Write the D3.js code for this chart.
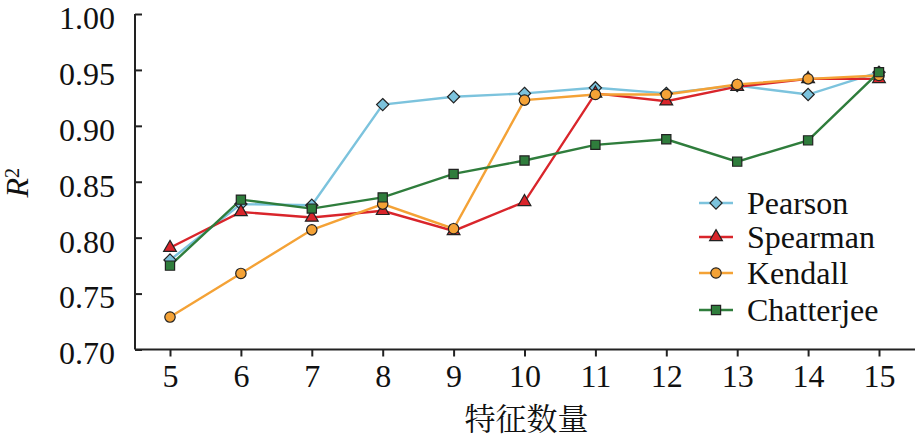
<!DOCTYPE html>
<html>
<head>
<meta charset="utf-8">
<script src="https://cdn.jsdelivr.net/npm/d3@7"></script>
<style>
  body { margin: 0; background: #fff; }
  svg { display: block; }
</style>
</head>
<body>
<svg id="chart" width="916" height="439"></svg>
<script>
const featureCounts = [5, 6, 7, 8, 9, 10, 11, 12, 13, 14, 15];
const pearson    = [0.780, 0.830, 0.829, 0.919, 0.926, 0.929, 0.934, 0.929, 0.936, 0.928, 0.948];
const spearman   = [0.791, 0.823, 0.818, 0.824, 0.806, 0.832, 0.929, 0.922, 0.935, 0.942, 0.942];
const kendall    = [0.729, 0.768, 0.807, 0.830, 0.808, 0.923, 0.928, 0.928, 0.937, 0.942, 0.945];
const chatterjee = [0.775, 0.834, 0.826, 0.836, 0.857, 0.869, 0.883, 0.888, 0.868, 0.887, 0.948];
const yTicks = [0.70, 0.75, 0.80, 0.85, 0.90, 0.95, 1.00];

const series = [
  { name: 'Pearson', values: pearson, color: '#7cc3dd', symbol: d3.symbolDiamond2, size: 95 },
  { name: 'Spearman', values: spearman, color: '#d9252b', symbol: d3.symbolTriangle, size: 70 },
  { name: 'Kendall', values: kendall, color: '#f4a236', symbol: d3.symbolCircle, size: 85 },
  { name: 'Chatterjee', values: chatterjee, color: '#2f7d3c', symbol: d3.symbolSquare, size: 85 }
];

const serif = 'Liberation Serif';
const margin = { left: 135, top: 14, bottom: 89 };
const width = 916, height = 439;
const svg = d3.select('#chart');

svg.append('rect').attr('width', width).attr('height', height).attr('fill', '#fff');

const x = d3.scaleLinear().domain([5, 15]).range([170, 879]);
const y = d3.scaleLinear().domain([0.70, 1.00]).range([height - margin.bottom - 0.5, margin.top]);

// x axis
const xAxis = svg.append('g')
  .attr('transform', `translate(0, ${y(0.70)})`)
  .call(d3.axisBottom(x).tickValues(featureCounts).tickFormat(d3.format('d')).tickSize(7).tickSizeOuter(0));
xAxis.select('.domain').attr('d', `M${margin.left},0H${width - 1}`);
xAxis.selectAll('line, path').attr('stroke', '#222').attr('stroke-width', 2);
xAxis.selectAll('text')
  .attr('font-family', serif).attr('font-size', 32)
  .attr('fill', '#111').attr('dy', '0.85em');

// y axis, ticks pointing inward
const yAxis = svg.append('g')
  .attr('transform', `translate(${margin.left}, 0)`)
  .call(d3.axisLeft(y).tickValues(yTicks).tickFormat(d3.format('.2f')).tickSize(-7).tickSizeOuter(0).tickPadding(20));
yAxis.select('.domain').attr('d', `M0,${y(1.00)}V${y(0.70)}`);
yAxis.selectAll('line, path').attr('stroke', '#222').attr('stroke-width', 2);
yAxis.selectAll('text')
  .attr('font-family', serif).attr('font-size', 32)
  .attr('fill', '#111').attr('dy', '0.45em');

// axis titles
svg.append('text')
  .attr('x', (x(5) + x(15)) / 2 + 2)
  .attr('y', 430)
  .attr('text-anchor', 'middle')
  .attr('font-family', 'Noto Serif CJK SC')
  .attr('font-size', 31)
  .attr('fill', '#111')
  .text('特征数量');

const yTitle = svg.append('text')
  .attr('transform', `translate(28, ${y(0.85) + 1}) rotate(-90)`)
  .attr('text-anchor', 'middle')
  .attr('font-family', serif)
  .attr('font-size', 32)
  .attr('fill', '#111');
yTitle.append('tspan').attr('font-style', 'italic').text('R');
yTitle.append('tspan').attr('dy', '-0.45em').attr('font-size', 20).text('2');

// lines and markers
const line = d3.line().x((d, i) => x(featureCounts[i])).y(d => y(d));
series.forEach(s => {
  svg.append('path')
    .datum(s.values)
    .attr('d', line)
    .attr('fill', 'none')
    .attr('stroke', s.color)
    .attr('stroke-width', 2.4);
});
series.forEach(s => {
  svg.append('g').selectAll('path')
    .data(s.values)
    .join('path')
    .attr('transform', (d, i) => `translate(${x(featureCounts[i])}, ${y(d)})`)
    .attr('d', d3.symbol().type(s.symbol).size(s.size))
    .attr('fill', s.color)
    .attr('stroke', '#222')
    .attr('stroke-width', 1.2);
});

// legend
const legendRows = [203, 237, 273, 310];
const legend = svg.append('g');
series.forEach((s, i) => {
  const row = legend.append('g').attr('transform', `translate(699, ${legendRows[i]})`);
  row.append('line').attr('x1', 0).attr('x2', 34).attr('stroke', s.color).attr('stroke-width', 2.4);
  row.append('path')
    .attr('transform', 'translate(17, 0)')
    .attr('d', d3.symbol().type(s.symbol).size(s.size))
    .attr('fill', s.color)
    .attr('stroke', '#222')
    .attr('stroke-width', 1.2);
  row.append('text')
    .attr('x', 48)
    .attr('dy', '0.33em')
    .attr('font-family', serif)
    .attr('font-size', 32)
    .attr('fill', '#111')
    .text(s.name);
});
</script>
</body>
</html>
